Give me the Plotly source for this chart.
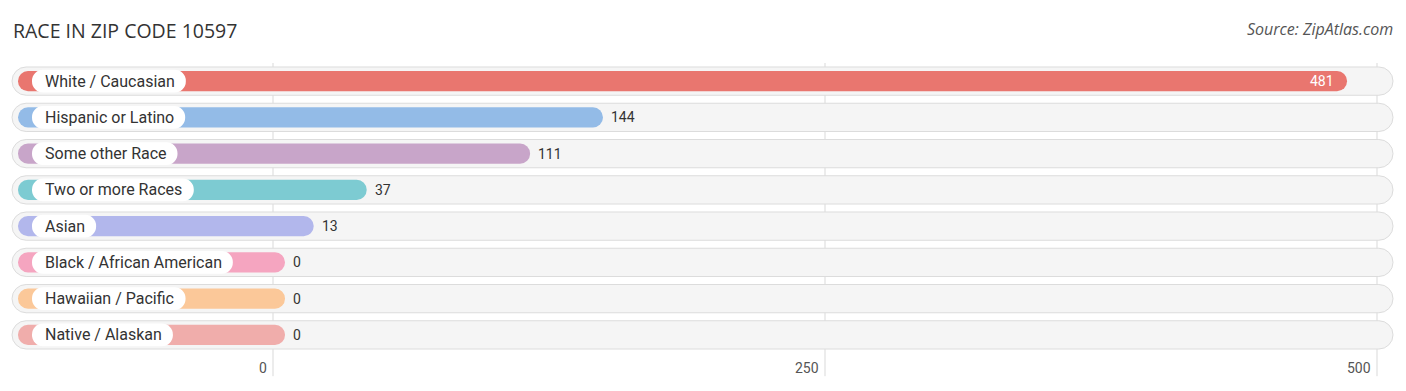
import plotly.graph_objects as go

categories = ["White / Caucasian", "Hispanic or Latino", "Some other Race", "Two or more Races",
              "Asian", "Black / African American", "Hawaiian / Pacific", "Native / Alaskan"]
values = [481, 144, 111, 37, 13, 0, 0, 0]
colors = ["#e9766f", "#93bbe7", "#c8a5c9", "#7dcbd2", "#b2b7ec", "#f5a5c0", "#fbc899", "#f0adab"]
tick_vals = [0, 250, 500]
tick_text = ["0", "250", "500"]

W, H = 1406, 391
PX = 2.208            # pixels per unit
ZERO_PX = 273         # pixel position of zero
xmin = -ZERO_PX / PX
xmax = (W - ZERO_PX) / PX

def px2u(p):
    return (p - ZERO_PX) / PX

track_start = px2u(12)
track_end = px2u(1393)
bar_start = px2u(18)
cap = 12 / PX
pill_start = px2u(32)

LABEL_SIZE = 16
# approximate Roboto advance widths (em)
CW = {'a': .544, 'b': .561, 'c': .523, 'd': .564, 'e': .530, 'f': .347, 'g': .561, 'h': .551,
      'i': .243, 'j': .239, 'k': .507, 'l': .243, 'm': .876, 'n': .552, 'o': .570, 'p': .561,
      'q': .568, 'r': .338, 's': .516, 't': .327, 'u': .551, 'v': .484, 'w': .751, 'x': .496,
      'y': .473, 'z': .496, ' ': .248, '/': .412,
      'W': .887, 'C': .652, 'H': .713, 'L': .538, 'S': .593, 'R': .616, 'T': .597, 'A': .652,
      'B': .622, 'P': .631, 'N': .713}

def pill_len(label):
    w = sum(CW.get(ch, .56) for ch in label) * LABEL_SIZE
    return (w + 24) / PX

ys = list(range(len(categories)))

fig = go.Figure()
# background tracks
fig.add_trace(go.Bar(
    y=ys, x=[track_end - track_start] * len(ys), base=[track_start] * len(ys),
    orientation="h", width=0.78,
    marker=dict(color="#f5f5f5", line=dict(color="#dcdcdc", width=1), cornerradius="50%"),
    hoverinfo="skip", showlegend=False))
# value bars
fig.add_trace(go.Bar(
    y=ys, x=[v + cap - bar_start for v in values], base=[bar_start] * len(ys),
    orientation="h", width=0.56,
    marker=dict(color=colors, line=dict(width=0), cornerradius="50%"),
    hoverinfo="skip", showlegend=False))
# label pills
fig.add_trace(go.Bar(
    y=ys, x=[pill_len(c) for c in categories], base=[pill_start] * len(ys),
    orientation="h", width=0.63,
    marker=dict(color="#ffffff", line=dict(width=0), cornerradius="50%"),
    hoverinfo="skip", showlegend=False))

for i, (c, v) in enumerate(zip(categories, values)):
    fig.add_annotation(x=pill_start, y=i, text=c, showarrow=False, xanchor="left", xshift=11,
                       font=dict(family="Roboto, sans-serif", size=LABEL_SIZE, color="#333333"))
    if v > 400:
        fig.add_annotation(x=v + cap, y=i, text=str(v), showarrow=False, xanchor="right", xshift=-11,
                           font=dict(family="Roboto, sans-serif", size=14, color="#ffffff"))
    else:
        fig.add_annotation(x=v + cap, y=i, text=str(v), showarrow=False, xanchor="left", xshift=6,
                           font=dict(family="Roboto, sans-serif", size=14, color="#333333"))

for tv, tt in zip(tick_vals, tick_text):
    fig.add_shape(type="line", x0=tv, x1=tv, xref="x", yref="paper", y0=-0.08, y1=1.0,
                  line=dict(color="#d9d9d9", width=1), layer="below")
    fig.add_annotation(x=tv, y=-0.05, xref="x", yref="paper", text=tt, showarrow=False,
                       xanchor="right", yanchor="middle", xshift=-4,
                       font=dict(family="Roboto, sans-serif", size=14, color="#555555"))

fig.add_annotation(x=0, y=1, xref="paper", yref="paper", xanchor="left", yanchor="top",
                   xshift=11, yshift=48, text="RACE IN ZIP CODE 10597", showarrow=False,
                   font=dict(family="Open Sans, sans-serif", size=19.5, color="#333333"))
fig.add_annotation(x=1, y=1, xref="paper", yref="paper", xanchor="right", yanchor="top",
                   xshift=-11, yshift=47, text="<i>Source: ZipAtlas.com</i>", showarrow=False,
                   font=dict(family="Open Sans, sans-serif", size=16, color="#555555"))

fig.update_layout(
    width=W, height=H,
    margin=dict(l=0, r=0, t=63, b=38),
    paper_bgcolor="white", plot_bgcolor="white",
    barmode="overlay",
    xaxis=dict(range=[xmin, xmax], showgrid=False, zeroline=False, showticklabels=False, fixedrange=True),
    yaxis=dict(range=[len(ys) - 0.5, -0.5], showgrid=False, zeroline=False, showticklabels=False, fixedrange=True),
)
fig.write_html("out.html", config={"displayModeBar": False},
               post_script="document.body.style.margin='0';document.body.style.overflow='hidden';")
